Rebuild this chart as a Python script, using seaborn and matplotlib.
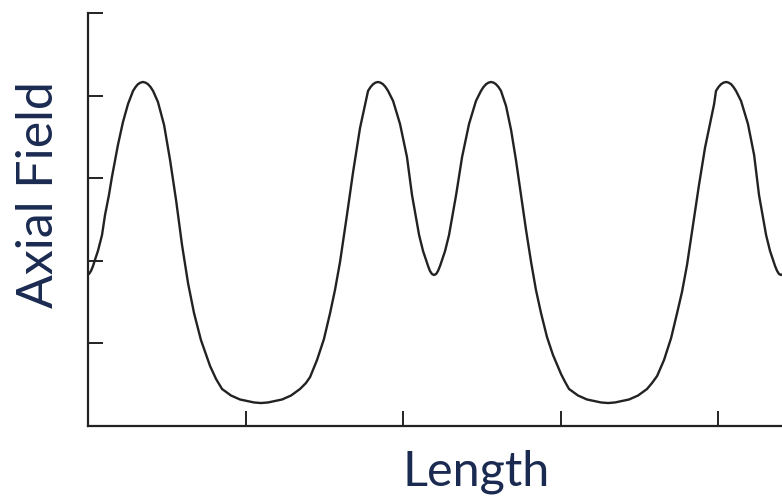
import matplotlib
matplotlib.use("Agg")
import matplotlib.pyplot as plt
import pandas as pd
import seaborn as sns

# values (x and y in tick units)
length = [
    0.000, 0.006, 0.019, 0.032, 0.044, 0.063, 0.089, 0.108, 0.133, 0.152, 0.190, 0.222, 0.254,
    0.286, 0.302, 0.317, 0.333, 0.349, 0.365, 0.381, 0.397, 0.413,
    0.444, 0.483, 0.521, 0.559, 0.597, 0.635, 0.673, 0.717, 0.775, 0.813,
    0.851, 0.908, 0.965, 1.010, 1.054, 1.098, 1.143, 1.187, 1.232, 1.289, 1.346,
    1.384, 1.410, 1.454, 1.498, 1.537, 1.568, 1.600, 1.644, 1.683, 1.727, 1.759,
    1.778, 1.794, 1.810, 1.825, 1.841, 1.857, 1.873, 1.889, 1.905,
    1.937, 1.981, 2.025, 2.057, 2.102, 2.127, 2.146, 2.159, 2.171, 2.184, 2.197,
    2.210, 2.222, 2.235, 2.248, 2.267, 2.292, 2.337, 2.375, 2.419, 2.463,
    2.495, 2.511, 2.527, 2.543, 2.559, 2.575, 2.590, 2.606, 2.622,
    2.654, 2.686, 2.717, 2.749, 2.781, 2.813, 2.844, 2.876, 2.914, 2.952, 3.003, 3.029,
    3.054, 3.111, 3.168, 3.213, 3.257, 3.302, 3.346, 3.390, 3.435, 3.492, 3.549,
    3.581, 3.613, 3.657, 3.702, 3.740, 3.771, 3.803, 3.841, 3.879, 3.917, 3.949, 3.975,
    3.987, 4.003, 4.019, 4.035, 4.051, 4.067, 4.083, 4.098, 4.114,
    4.146, 4.190, 4.229, 4.260, 4.305, 4.330, 4.349, 4.362, 4.375, 4.387, 4.400, 4.406,
]
axial_field = [
    1.834, 1.840, 1.877, 1.937, 2.010, 2.119, 2.312, 2.554, 2.797, 3.015, 3.402, 3.680, 3.898,
    4.057, 4.104, 4.138, 4.157, 4.165, 4.157, 4.138, 4.104, 4.057,
    3.923, 3.644, 3.220, 2.736, 2.191, 1.731, 1.368, 1.041, 0.726, 0.569,
    0.448, 0.369, 0.321, 0.303, 0.285, 0.278, 0.285, 0.303, 0.321, 0.369, 0.448,
    0.521, 0.593, 0.799, 1.053, 1.368, 1.646, 1.985, 2.554, 3.075, 3.608, 3.886,
    4.057, 4.104, 4.138, 4.157, 4.165, 4.157, 4.138, 4.104, 4.057,
    3.935, 3.656, 3.257, 2.797, 2.312, 2.119, 2.010, 1.937, 1.877, 1.840, 1.828,
    1.840, 1.877, 1.937, 2.010, 2.119, 2.312, 2.797, 3.257, 3.656, 3.935,
    4.057, 4.104, 4.138, 4.157, 4.165, 4.157, 4.138, 4.104, 4.057,
    3.874, 3.584, 3.220, 2.797, 2.373, 1.985, 1.646, 1.368, 1.077, 0.860, 0.630, 0.533,
    0.448, 0.369, 0.321, 0.303, 0.285, 0.278, 0.285, 0.303, 0.321, 0.369, 0.448,
    0.521, 0.605, 0.799, 1.065, 1.368, 1.622, 1.949, 2.433, 2.918, 3.366, 3.656, 3.898,
    4.057, 4.104, 4.138, 4.157, 4.165, 4.157, 4.138, 4.104, 4.057,
    3.935, 3.656, 3.281, 2.797, 2.312, 2.119, 2.010, 1.937, 1.877, 1.840, 1.828, 1.834,
]
x_ticks = [1, 2, 3, 4]
y_ticks = [1, 2, 3, 4, 5]

df = pd.DataFrame({"Length": length, "Axial Field": axial_field})

sns.set_style("ticks")
plt.rcParams["font.family"] = ["Lato", "DejaVu Sans"]

fig = plt.figure(figsize=(7.82, 4.99), dpi=100)
ax = fig.add_axes([88 / 782, 1 - 426 / 499, 1 - 88 / 782, (426 - 13) / 499])

sns.lineplot(data=df, x="Length", y="Axial Field", ax=ax, color="#222222", linewidth=1.7, sort=False)

ax.set_xlim(0, 4.406)
ax.set_ylim(0, 5)
ax.set_xticks(x_ticks)
ax.set_yticks(y_ticks)
ax.set_xticklabels([])
ax.set_yticklabels([])
ax.tick_params(axis="both", direction="in", length=11, width=1.4, color="#222222",
               left=True, bottom=True)

sns.despine(ax=ax)
for side in ("left", "bottom"):
    ax.spines[side].set_color("#222222")
    ax.spines[side].set_linewidth(1.6)

label_color = "#1a2a50"
ax.set_xlabel("Length", fontsize=35, color=label_color)
ax.set_ylabel("Axial Field", fontsize=36, color=label_color)
ax.xaxis.set_label_coords(0.559, -0.057)
ax.yaxis.set_label_coords(-0.037, 0.56)

fig.savefig("out.png", dpi=100)
